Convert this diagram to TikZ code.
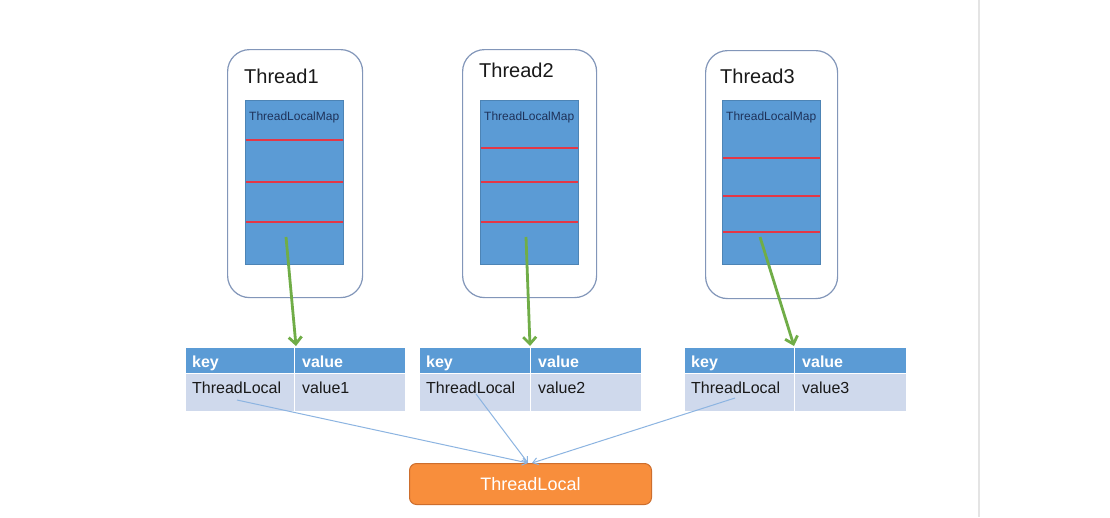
\documentclass[tikz,border=0pt]{standalone}
\usepackage{fontspec}
\setmainfont{Liberation Sans}
\usetikzlibrary{arrows.meta}
\definecolor{mapblue}{RGB}{91,155,213}
\definecolor{boxedge}{RGB}{130,150,185}
\definecolor{redl}{RGB}{228,55,70}
\definecolor{maptext}{RGB}{30,50,90}
\definecolor{garrow}{RGB}{112,173,71}
\definecolor{rowfill}{RGB}{207,217,236}
\definecolor{thinblue}{RGB}{140,180,225}
\definecolor{orangefill}{RGB}{248,142,60}
\definecolor{orangeedge}{RGB}{205,110,45}
\definecolor{sepgray}{RGB}{228,228,228}
\tikzset{
  threadbox/.style={draw=boxedge, line width=1.2pt, rounded corners=22pt, fill=white, anchor=north west, inner sep=0pt},
  mapbox/.style={fill=mapblue, draw=mapblue!85!black, line width=0.4pt, anchor=north west, inner sep=0pt},
  redline/.style={draw=redl, line width=2pt},
  titletext/.style={anchor=base west, inner sep=0pt, font=\fontsize{20}{23}\selectfont, text=black!90},
  maptxt/.style={anchor=base west, inner sep=0pt, font=\fontsize{12}{14}\selectfont, text=maptext},
  greenarrow/.style={draw=garrow, line width=2.8pt, -{Straight Barb[length=7pt,width=13pt]}},
  headcell/.style={fill=mapblue, draw=white, line width=1pt, anchor=north west, inner sep=0pt, minimum height=26pt},
  rowcell/.style={fill=rowfill, draw=white, line width=1pt, anchor=north west, inner sep=0pt, minimum height=38pt},
  headtext/.style={anchor=base west, inner sep=0pt, font=\fontsize{16}{18}\selectfont\bfseries, text=white},
  rowtext/.style={anchor=base west, inner sep=0pt, font=\fontsize{16}{18}\selectfont, text=black!90},
  thinarrow/.style={draw=thinblue, line width=1pt, -{Straight Barb[length=5pt,width=7pt]}},
  tlbox/.style={fill=orangefill, draw=orangeedge, line width=1pt, rounded corners=7pt, minimum width=242pt, minimum height=41pt, anchor=north west, inner sep=0pt},
}
\begin{document}
\begin{tikzpicture}[x=1pt,y=-1pt]
\useasboundingbox (0,0) rectangle (1110,517);
\fill[white] (0,0) rectangle (1110,517);
\draw[sepgray, line width=1.5pt] (979,0) -- (979,517);

% Thread boxes
\node[threadbox, minimum width=135pt, minimum height=248pt] (t1) at (227,49) {};
\node[threadbox, minimum width=134pt, minimum height=248pt] (t2) at (462,49) {};
\node[threadbox, minimum width=132pt, minimum height=248pt] (t3) at (705,50) {};

\node[titletext] (t1l) at (244,83) {Thread1};
\node[titletext] (t2l) at (479,77) {Thread2};
\node[titletext] (t3l) at (720,83) {Thread3};

% maps
\node[mapbox, minimum width=98pt, minimum height=164pt] (m1) at (245,100) {};
\node[mapbox, minimum width=98pt, minimum height=164pt] (m2) at (480,100) {};
\node[mapbox, minimum width=98pt, minimum height=164pt] (m3) at (722,100) {};

\node[maptxt] (m1l) at (249,120) {ThreadLocalMap};
\node[maptxt] (m2l) at (484,120) {ThreadLocalMap};
\node[maptxt] (m3l) at (726,120) {ThreadLocalMap};

\draw[redline] (245.5,140) -- (342.5,140);
\draw[redline] (245.5,182) -- (342.5,182);
\draw[redline] (245.5,222) -- (342.5,222);
\draw[redline] (480.5,148) -- (577.5,148);
\draw[redline] (480.5,182) -- (577.5,182);
\draw[redline] (480.5,222) -- (577.5,222);
\draw[redline] (722.5,158) -- (819.5,158);
\draw[redline] (722.5,196) -- (819.5,196);
\draw[redline] (722.5,232) -- (819.5,232);

% tables
\node[headcell, minimum width=109pt] (k1) at (185,347) {};
\node[headcell, minimum width=111pt] (v1) at (294,347) {};
\node[rowcell, minimum width=109pt] (r1k) at (185,373) {};
\node[rowcell, minimum width=111pt] (r1v) at (294,373) {};
\node[headtext] at (192,367) {key};
\node[headtext] at (302,367) {value};
\node[rowtext] (tl1) at (192,393) {ThreadLocal};
\node[rowtext] at (302,393) {value1};

\node[headcell, minimum width=111pt] (k2) at (419,347) {};
\node[headcell, minimum width=111pt] (v2) at (530,347) {};
\node[rowcell, minimum width=111pt] (r2k) at (419,373) {};
\node[rowcell, minimum width=111pt] (r2v) at (530,373) {};
\node[headtext] at (426,367) {key};
\node[headtext] at (538,367) {value};
\node[rowtext] (tl2) at (426,393) {ThreadLocal};
\node[rowtext] at (538,393) {value2};

\node[headcell, minimum width=110pt] (k3) at (684,347) {};
\node[headcell, minimum width=112pt] (v3) at (794,347) {};
\node[rowcell, minimum width=110pt] (r3k) at (684,373) {};
\node[rowcell, minimum width=112pt] (r3v) at (794,373) {};
\node[headtext] at (691,367) {key};
\node[headtext] at (802,367) {value};
\node[rowtext] (tl3) at (691,393) {ThreadLocal};
\node[rowtext] at (802,393) {value3};

% green arrows
\coordinate (g1s) at (286,237);
\coordinate (g1e) at (296,346);
\coordinate (g2s) at (526,237);
\coordinate (g2e) at (530,346);
\coordinate (g3s) at (760,237);
\coordinate (g3e) at (794,346);
\draw[greenarrow] (g1s) -- (g1e);
\draw[greenarrow] (g2s) -- (g2e);
\draw[greenarrow] (g3s) -- (g3e);

% ThreadLocal box
\node[tlbox] (tl) at (409,463) {};
\node[anchor=center, inner sep=0pt, font=\fontsize{18}{20}\selectfont, text=white] (tltext) at (tl.center) {ThreadLocal};

% thin arrows
\coordinate (b1s) at (237,400);
\coordinate (b2s) at (476,394);
\coordinate (b3s) at (735,398);
\coordinate (b1e) at (528,463);
\coordinate (b3e) at (532,463);
\draw[thinarrow] (b1s) -- (b1e);
\draw[thinarrow] (b2s) -- (b1e);
\draw[thinarrow] (b3s) -- (b3e);
\end{tikzpicture}
\end{document}
